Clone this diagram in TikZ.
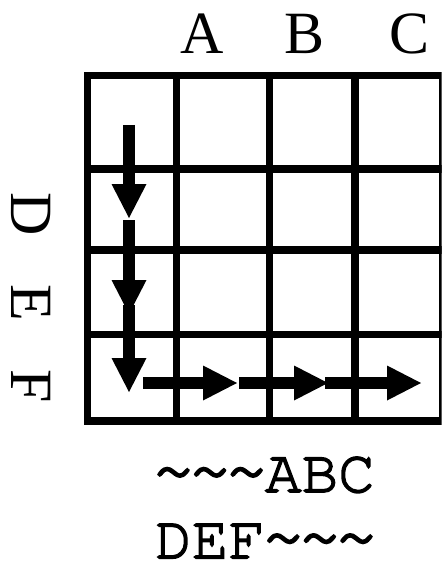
\documentclass[tikz,border=0pt]{standalone}
\usepackage[T1,TU]{fontenc}
\usepackage{fontspec}
\usepackage{graphicx}
\setmainfont{Liberation Serif}
\usetikzlibrary{arrows.meta}
\newcommand{\courierfont}{\fontencoding{T1}\fontfamily{pcr}\fontseries{m}\fontshape{n}}
% set text with a thin outline added, for a slightly heavier typewriter face
\newcommand{\heavier}[1]{\special{pdf:literal 2 Tr 1.5 w}#1\special{pdf:literal 0 Tr 0.4 w}}
% a broader tilde that still takes one character cell
\newcommand{\wtilde}{\makebox[0.6em]{\scalebox{1.2}[1.15]{\textasciitilde}}}
\tikzset{
  gridline/.style={line width=7.5pt, black},
  bigarrow/.style={line width=11.7pt, black,
    -{Triangle[length=34pt,width=35pt,line width=0pt]}},
  collabel/.style={font=\fontsize{60}{60}\selectfont, inner sep=0pt, anchor=base},
  rowlabel/.style={font=\fontsize{60}{60}\selectfont, inner sep=0pt, anchor=base, rotate=-90},
  codeline/.style={font=\courierfont\fontsize{61}{61}\selectfont, inner sep=0pt, anchor=base},
}
\begin{document}
\begin{tikzpicture}[x=1pt,y=-1pt]
\useasboundingbox (0,0) rectangle (443,572);

% column and row heading letters
\node[collabel] (colA) at (202,53.3) {A};
\node[collabel] (colB) at (304.5,53.3) {B};
\node[collabel] (colC) at (410,53.3) {C};
\node[rowlabel] (rowD) at (11.7,214) {D};
\node[rowlabel] (rowE) at (11.7,303.3) {E};
\node[rowlabel] (rowF) at (11.7,386) {F};

% the 4x4 grid
\begin{scope}
  \clip (0,0) rectangle (441.7,572);
  \draw[gridline] (87.5,75.5) rectangle (443,421);
  \foreach \x in {176.7,269.3,355} \draw[gridline] (\x,75.5) -- (\x,421);
  \foreach \y in {169,250,334.5} \draw[gridline] (87.5,\y) -- (443,\y);
\end{scope}

% path through the grid: down the first column, then along the bottom row
\coordinate (v1s) at (129,125);
\coordinate (v1e) at (129,218);
\coordinate (v2s) at (129,220);
\coordinate (v2e) at (129,314);
\coordinate (v3s) at (129,305);
\coordinate (v3e) at (129,392);
\coordinate (h1s) at (143,383);
\coordinate (h1e) at (237,383);
\coordinate (h2s) at (239,383);
\coordinate (h2e) at (328,383);
\coordinate (h3s) at (325,383);
\coordinate (h3e) at (421,383);
\draw[bigarrow] (v1s) -- (v1e);
\draw[bigarrow] (v2s) -- (v2e);
\draw[bigarrow] (v3s) -- (v3e);
\draw[bigarrow] (h1s) -- (h1e);
\draw[bigarrow] (h2s) -- (h2e);
\draw[bigarrow] (h3s) -- (h3e);

% shifted strings below the grid
\node[codeline] (line1) at (265,492) {\heavier{\wtilde\wtilde\wtilde ABC}};
\node[codeline] (line2) at (265,558.3) {\heavier{DEF\wtilde\wtilde\wtilde}};
\end{tikzpicture}
\end{document}
